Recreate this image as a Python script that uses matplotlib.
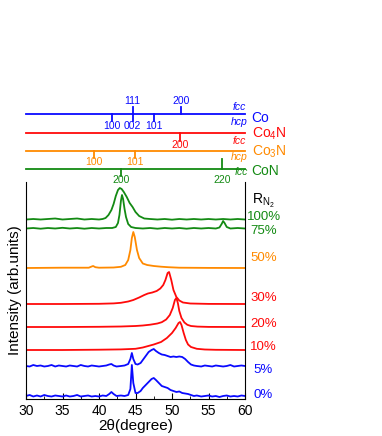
import numpy as np
import matplotlib
matplotlib.use("Agg")
import matplotlib.pyplot as plt
from matplotlib.ticker import MultipleLocator

plt.rcParams['font.family'] = ['Liberation Sans', 'DejaVu Sans']
plt.rcParams['mathtext.fontset'] = 'custom'
plt.rcParams['mathtext.rm'] = 'Liberation Sans'
plt.rcParams['mathtext.it'] = 'Liberation Sans:italic'

# ---- XRD patterns: 2theta (deg) and intensity above each baseline (arb.) ----
x0 = [30, 30.5, 31, 31.5, 32, 32.5, 33, 33.5, 34, 34.5, 35, 35.5, 36, 36.5, 37, 37.5, 38, 38.5, 39, 39.5,
      40, 40.5, 41, 41.4, 41.7, 42.0, 42.4, 43, 43.5, 44.0, 44.3, 44.5, 44.7, 45.0, 45.3, 45.7, 46.0, 46.4, 46.8, 47.2,
      47.5, 47.8, 48.2, 48.6, 49.0, 49.4, 49.8, 50.2, 50.6, 51.0, 51.4, 51.8, 52.2, 52.6, 53.0, 53.4, 54, 54.5, 55, 55.5,
      56, 56.5, 57, 57.5, 58, 58.5, 59, 59.5, 60]
y0 = [1, 2, 0.5, 1.5, 0.5, 2, 1, 0.5, 1.5, 1, 0.5, 1.5, 0.5, 1, 2, 0.5, 1, 1.5, 0.5, 1,
      0.5, 1.5, 1, 3, 5, 3, 1, 1.5, 1, 2, 8, 32, 14, 4, 4, 6, 9, 12, 15, 18,
      19, 17, 14, 11, 10, 9, 7, 6, 5, 5.5, 4, 3.5, 3, 2, 1, 1.5, 0.5, 1, 1.5, 0.5,
      1, 0, 1, 1.5, 0.5, 1, 0.5, 1.5, 1]

x5 = x0
y5 = [1, 0.5, 2, 1, 1.5, 0.5, 1, 2, 0.5, 1.5, 1, 0.5, 1.5, 1, 0.5, 2, 1, 0.5, 1.5, 1,
      0.5, 1, 1.5, 2.5, 3, 1.5, 0.5, 1, 1.5, 3, 8, 14, 8, 3, 2.5, 4, 7, 11, 15, 17,
      18, 16, 14, 12.5, 12, 11, 10, 10.5, 10, 10.5, 10, 8, 5, 2.5, 1.5, 1, 0.5, 1.5, 1, 0.5,
      1.5, 1, 0.5, 1, 2, 0.5, 1, 1.5, 1]

x10 = [30, 35, 40, 43, 45, 46, 47, 47.5, 48.5, 49.3, 50.0, 50.5, 50.9, 51.1, 51.3, 51.6, 51.9, 52.2, 52.6, 53.4, 54.5, 56, 60]
y10 = [0, 0, 0.3, 0.6, 1.2, 2.5, 4.5, 5.5, 8, 12, 17, 22, 27, 28, 25, 17, 10, 5.5, 3, 1.2, 0.5, 0.2, 0]

x20 = [30, 35, 40, 43, 45, 46, 47, 48, 48.6, 49.2, 49.7, 50.1, 50.4, 50.6, 50.8, 51.0, 51.3, 51.7, 52.1, 52.6, 53.5, 55, 60]
y20 = [0, 0, 0.2, 0.5, 1.0, 1.5, 2.3, 3.5, 4.8, 7.5, 12, 19, 27, 29, 24, 16, 9, 4.5, 2.2, 1.0, 0.4, 0.1, 0]

x30 = [30, 35, 40, 42, 43, 44, 44.7, 45.5, 46.2, 46.7, 47.3, 47.9, 48.4, 48.8, 49.1, 49.4, 49.6, 49.9, 50.2, 50.6, 51.0, 51.5, 52.5, 55, 60]
y30 = [0, 0, 0.2, 0.6, 1.2, 2.5, 4, 6.5, 9, 10.5, 11.5, 13, 15.5, 19, 24, 31, 32, 24, 14, 7, 3.5, 1.5, 0.5, 0.1, 0]

x50 = [30, 35, 38.6, 39.0, 39.2, 39.5, 40, 42, 43.0, 43.6, 44.0, 44.3, 44.5, 44.7, 44.9, 45.2, 45.5, 46.0, 46.6, 47.5, 48.5, 49.5, 51, 55, 60]
y50 = [0, 0.3, 0.3, 1.5, 2, 0.8, 0.3, 0.5, 1.2, 3, 8, 18, 30, 36, 31, 18, 10, 4.5, 3, 2, 1.3, 0.8, 0.3, 0.1, 0]

x75 = [30, 31, 32, 33, 34, 35, 36, 37, 38, 39, 40, 41, 41.8, 42.3, 42.6, 42.8, 43.0, 43.15, 43.3, 43.5, 43.7, 44.0,
       44.4, 45, 46, 47, 48, 49, 50, 51, 52, 53, 54, 55, 56, 56.5, 56.8, 57.0, 57.2, 57.5, 58, 59, 60]
y75 = [0.5, 1, 0.3, 1, 0.5, 1.2, 0.5, 1, 0.3, 1, 0.5, 1, 1, 2, 6, 14, 28, 34, 30, 20, 12, 5,
       2, 1, 0.5, 1, 0.3, 1, 0.5, 1, 0.3, 1, 0.5, 1, 0.5, 1.5, 5, 8, 6, 2, 0.5, 1, 0.5]

x100 = [30, 31, 32, 33, 34, 35, 36, 37, 38, 39, 40, 40.5, 40.9, 41.3, 41.7, 42.0, 42.3, 42.6, 42.85, 43.1, 43.4,
        43.8, 44.2, 44.6, 45.0, 45.5, 46.2, 47, 48, 49, 50, 51, 52, 53, 54, 55, 56, 57, 58, 59, 60]
y100 = [0.5, 1, 0.5, 1, 1.5, 0.5, 1, 1.5, 0.5, 1, 0.5, 1, 2, 5, 10, 16, 24, 30, 32, 31, 28,
        23, 17, 13, 8, 4, 1.5, 1, 0.5, 1, 0.3, 1, 0.5, 1, 0.5, 1, 0.5, 1, 0.5, 1, 0.5]

curves = [(x0, y0), (x5, y5), (x10, y10), (x20, y20), (x30, y30), (x50, y50), (x75, y75), (x100, y100)]
ratios = ['0%', '5%', '10%', '20%', '30%', '50%', '75%', '100%']
offsets = [2, 32, 49, 72, 95, 131, 170, 179]
label_y = [4, 29, 52, 75, 101, 141, 168, 182]
label_x = [61.2, 61.2, 60.7, 60.7, 60.7, 60.7, 60.7, 60.3]

BLUE, RED, ORANGE, GREEN = '#0a0aff', '#ff0a0a', '#ff8a00', '#138a13'
colors = [BLUE, BLUE, RED, RED, RED, ORANGE, GREEN, GREEN]

# ---- reference peak positions ----
co_fcc = [44.6, 51.3]
co_fcc_lab = ['111', '200']
co_hcp = [41.8, 44.6, 47.5]
co_hcp_lab = ['100', '002', '101']
co4n = [51.1]
co4n_lab = ['200']
co3n = [39.3, 44.9]
co3n_lab = ['100', '101']
con = [43.0, 56.9]
con_lab = ['200', '220']

W, H = 382, 436
fig = plt.figure(figsize=(W / 100, H / 100), dpi=100)

# main axes (pixel box: x 26..245, y 182..399)
ax = fig.add_axes([26 / W, 1 - 399 / H, 219 / W, 217 / H])
for (xx, yy), off, c in zip(curves, offsets, colors):
    ax.plot(xx, np.array(yy) + off, color=c, lw=1.3)
for lab, lx, ly, c in zip(ratios, label_x, label_y, colors):
    ax.text(lx, ly, lab, color=c, fontsize=9.5, ha='left', va='center')
ax.text(61.0, 198, r'R$_{\mathrm{N}_2}$', fontsize=10, ha='left', va='center')

ax.set_xlim(30, 60)
ax.set_ylim(0, 217)
ax.spines['top'].set_visible(False)
ax.xaxis.set_major_locator(MultipleLocator(5))
ax.xaxis.set_minor_locator(MultipleLocator(2.5))
ax.tick_params(axis='x', which='both', direction='in', top=False, labelsize=10)
ax.tick_params(axis='x', which='major', length=4)
ax.tick_params(axis='x', which='minor', length=2)
ax.set_yticks([])
ax.set_xlabel('2\u03b8(degree)', fontsize=11, labelpad=1)
ax.set_ylabel('Intensity (arb.units)', fontsize=11, labelpad=3)

# reference lines panel (pixel y coordinates, inverted)
at = fig.add_axes([26 / W, 1 - 182 / H, 219 / W, 92 / H])
at.set_xlim(30, 60)
at.set_ylim(182, 90)
at.axis('off')


def ref_line(y, color):
    at.plot([30, 60], [y, y], color=color, lw=1.3, clip_on=False)


def ref_ticks(pos, labs, y, dy, ly, color):
    for p, l in zip(pos, labs):
        at.plot([p, p], [y, y + dy], color=color, lw=1.3, clip_on=False)
        at.text(p, ly, l, color=color, fontsize=7.5, ha='center', va='center')


ref_line(114, BLUE)
ref_ticks(co_fcc, co_fcc_lab, 114, -7, 101, BLUE)
ref_ticks(co_hcp, co_hcp_lab, 114, 7.5, 126, BLUE)
at.text(59.2, 107, 'fcc', color=BLUE, fontsize=7.5, style='italic', ha='center', va='center')
at.text(59.2, 122, 'hcp', color=BLUE, fontsize=7.5, style='italic', ha='center', va='center')
at.text(60.9, 118, 'Co', color=BLUE, fontsize=10, ha='left', va='center')

ref_line(133, RED)
ref_ticks(co4n, co4n_lab, 133, 8, 145, RED)
at.text(59.2, 141, 'fcc', color=RED, fontsize=7.5, style='italic', ha='center', va='center')
at.text(60.9, 134, r'Co$_4$N', color=RED, fontsize=10, ha='left', va='center')

ref_line(151, ORANGE)
ref_ticks(co3n, co3n_lab, 151, 7, 162, ORANGE)
at.text(59.2, 157, 'hcp', color=ORANGE, fontsize=7.5, style='italic', ha='center', va='center')
at.text(60.9, 152, r'Co$_3$N', color=ORANGE, fontsize=10, ha='left', va='center')

ref_line(169, GREEN)
ref_ticks(con[:1], con_lab[:1], 169, 7, 180, GREEN)
ref_ticks(con[1:], con_lab[1:], 169, -10, 180, GREEN)
at.text(59.5, 172, 'fcc', color=GREEN, fontsize=7.5, style='italic', ha='center', va='center')
at.text(60.9, 171, 'CoN', color=GREEN, fontsize=10, ha='left', va='center')

fig.savefig('out.png', dpi=100)
